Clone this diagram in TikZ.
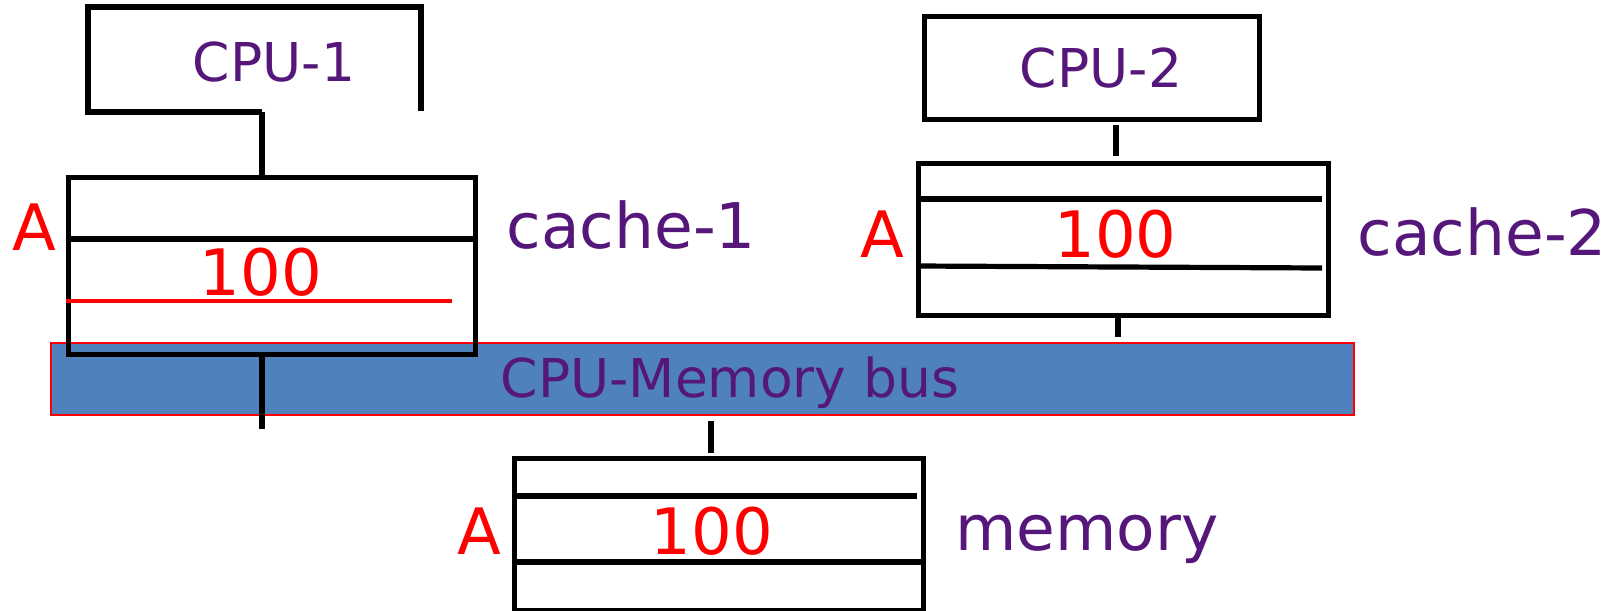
\documentclass[tikz,border=0pt]{standalone}
\usepackage{fontspec}
\setmainfont{DejaVu Sans}
\definecolor{txtpurple}{RGB}{85,24,122}
\definecolor{busblue}{RGB}{79,129,189}
\begin{document}
\begin{tikzpicture}[x=0.5pt,y=-0.5pt,
  blk/.style={line width=2.6pt, draw=black},
  cellbox/.style={blk, rectangle, inner sep=0pt, anchor=north west},
  smalltxt/.style={inner sep=0pt, text=txtpurple, font=\fontsize{26.75pt}{30pt}\selectfont},
  bigtxt/.style={inner sep=0pt, text=txtpurple, font=\fontsize{31.5pt}{36pt}\selectfont},
  redtxt/.style={inner sep=0pt, text=red, font=\fontsize{32pt}{36pt}\selectfont}]
\useasboundingbox (0,0) rectangle (1620,610);

% bus
\node[rectangle, inner sep=0pt, anchor=north west, fill=busblue, draw=red, line width=0.8pt,
      minimum width=651.5pt, minimum height=36pt] (bus) at (50,342) {};
\node[smalltxt, anchor=base] (bustxt) at (730,397) {CPU-Memory bus};

% CPU-1 (open shape)
\coordinate (c1a) at (421,111);
\coordinate (c1b) at (262,112);
\draw[blk, line join=miter] (c1a) -- (421,7) -- (88,7) -- (88,112) -- (c1b);
\node[smalltxt, anchor=base] (cpu1) at (274,82) {CPU-1};

% cache-1
\node[cellbox, minimum width=203.5pt, minimum height=88.5pt] (cache1) at (66,175) {};
\draw[blk] (c1b) -- (262,175);
\draw[blk] (66,239) -- (473,239);
\draw[line width=2.2pt, red] (66,301) -- (452,301);
\node[redtxt, anchor=base] (a1) at (34,250) {A};
\node[redtxt, anchor=base] (v1) at (261,295) {100};
\node[bigtxt, anchor=base west] (l1) at (506,248) {cache-1};
\coordinate (c1bot) at (262,353);
\coordinate (c1end) at (262,429);
\draw[blk] (c1bot) -- (c1end);

% CPU-2
\node[cellbox, minimum width=167.5pt, minimum height=51.5pt] (cpu2box) at (921.5,14) {};
\node[smalltxt, anchor=base] (cpu2) at (1101,88) {CPU-2};
\coordinate (c2s) at (1116,125);
\coordinate (c2e) at (1116,156);
\draw[blk] (c2s) -- (c2e);

% cache-2
\node[cellbox, minimum width=205pt, minimum height=76pt] (cache2) at (916,161) {};
\draw[blk] (916,199) -- (1322,199);
\draw[blk] (916,266) -- (1322,268);
\node[redtxt, anchor=base] (a2) at (882,257) {A};
\node[redtxt, anchor=base] (v2) at (1115.5,257) {100};
\node[bigtxt, anchor=base west] (l2) at (1357,255) {cache-2};
\coordinate (c2bs) at (1118,315);
\coordinate (c2be) at (1118,337);
\draw[blk] (c2bs) -- (c2be);

% memory
\coordinate (ms) at (711,421);
\coordinate (me) at (711,453);
\draw[blk] (ms) -- (me);
\node[cellbox, minimum width=204.5pt, minimum height=76pt] (mem) at (512,456) {};
\draw[blk] (512,496) -- (917,496);
\draw[blk] (512,562) -- (921,562);
\node[redtxt, anchor=base] (a3) at (479,554) {A};
\node[redtxt, anchor=base] (v3) at (712,554) {100};
\node[bigtxt, anchor=base west] (l3) at (955,550) {memory};
\end{tikzpicture}
\end{document}
